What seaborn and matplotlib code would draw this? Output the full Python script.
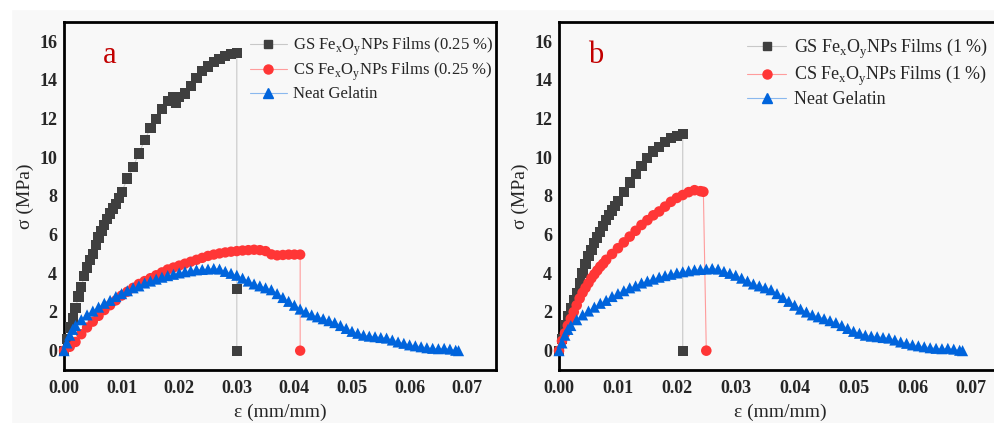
import matplotlib
matplotlib.use("Agg")
import matplotlib.pyplot as plt
from matplotlib.lines import Line2D
from matplotlib.patches import Rectangle
import seaborn as sns

# panel a, 0.25 % films
gs_a_x = [0, 0.0005, 0.001, 0.0015, 0.002, 0.0025, 0.003, 0.0035, 0.004, 0.0045,
          0.005, 0.0055, 0.006, 0.0065, 0.007, 0.0075, 0.008, 0.0085, 0.009, 0.0095,
          0.010, 0.011, 0.012, 0.013, 0.014, 0.015, 0.016, 0.017, 0.018, 0.019,
          0.0195, 0.020, 0.021, 0.022, 0.023, 0.024, 0.025, 0.026, 0.027, 0.028,
          0.029, 0.030, 0.030, 0.030]
gs_a_y = [0, 0.6, 1.2, 1.7, 2.2, 2.8, 3.3, 3.85, 4.3, 4.7,
          5.0, 5.45, 5.85, 6.2, 6.5, 6.8, 7.1, 7.35, 7.6, 7.9,
          8.2, 8.9, 9.5, 10.2, 10.9, 11.5, 12.0, 12.5, 12.9, 13.1,
          12.8, 13.1, 13.3, 13.7, 14.1, 14.45, 14.7, 14.95, 15.1, 15.25,
          15.35, 15.4, 3.2, 0]

cs_a_x = [0, 0.001, 0.002, 0.003, 0.004, 0.005, 0.006, 0.007, 0.008, 0.009,
          0.010, 0.011, 0.012, 0.013, 0.014, 0.015, 0.016, 0.017, 0.018, 0.019,
          0.020, 0.021, 0.022, 0.023, 0.024, 0.025, 0.026, 0.027, 0.028, 0.029,
          0.030, 0.031, 0.032, 0.033, 0.034, 0.035, 0.036, 0.037, 0.038, 0.039,
          0.040, 0.041, 0.041]
cs_a_y = [0, 0.2, 0.45, 0.85, 1.2, 1.5, 1.8, 2.1, 2.35, 2.6,
          2.85, 3.05, 3.25, 3.45, 3.6, 3.75, 3.9, 4.05, 4.2, 4.3,
          4.4, 4.5, 4.6, 4.7, 4.8, 4.9, 4.97, 5.03, 5.08, 5.12,
          5.15, 5.18, 5.2, 5.22, 5.2, 5.15, 4.98, 4.93, 4.95, 4.97,
          4.97, 4.97, 0]

# neat gelatin, same curve in both panels
neat_x = [0, 0.0005, 0.001, 0.0015, 0.002, 0.003, 0.004, 0.005, 0.006, 0.007,
          0.008, 0.009, 0.010, 0.011, 0.012, 0.013, 0.014, 0.015, 0.016, 0.017,
          0.018, 0.019, 0.020, 0.021, 0.022, 0.023, 0.024, 0.025, 0.026, 0.027,
          0.028, 0.029, 0.030, 0.031, 0.032, 0.033, 0.034, 0.035, 0.036, 0.037,
          0.038, 0.039, 0.040, 0.041, 0.042, 0.043, 0.044, 0.045, 0.046, 0.047,
          0.048, 0.049, 0.050, 0.051, 0.052, 0.053, 0.054, 0.055, 0.056, 0.057,
          0.058, 0.059, 0.060, 0.061, 0.062, 0.063, 0.064, 0.065, 0.066, 0.067,
          0.068, 0.0685]
neat_y = [0, 0.4, 0.8, 1.1, 1.3, 1.6, 1.85, 2.05, 2.25, 2.45,
          2.6, 2.8, 2.95, 3.1, 3.25, 3.35, 3.5, 3.6, 3.7, 3.8,
          3.88, 3.95, 4.02, 4.08, 4.13, 4.18, 4.2, 4.22, 4.25, 4.22,
          4.1, 4.0, 3.9, 3.75, 3.6, 3.45, 3.35, 3.25, 3.15, 2.95,
          2.75, 2.55, 2.35, 2.15, 2.0, 1.85, 1.75, 1.65, 1.55, 1.45,
          1.3, 1.15, 1.0, 0.9, 0.8, 0.75, 0.72, 0.68, 0.65, 0.55,
          0.45, 0.38, 0.3, 0.25, 0.2, 0.15, 0.12, 0.1, 0.12, 0.08,
          0.02, 0]

# panel b, 1 % films
gs_b_x = [0, 0.0005, 0.001, 0.0015, 0.002, 0.0025, 0.003, 0.0035, 0.004, 0.0045,
          0.005, 0.0055, 0.006, 0.0065, 0.007, 0.0075, 0.008, 0.0085, 0.009, 0.0095,
          0.010, 0.011, 0.012, 0.013, 0.014, 0.015, 0.016, 0.017, 0.018, 0.019,
          0.020, 0.021, 0.021]
gs_b_y = [0, 0.6, 1.3, 1.8, 2.2, 2.6, 3.0, 3.5, 4.0, 4.5,
          4.9, 5.2, 5.55, 5.85, 6.15, 6.45, 6.75, 7.0, 7.25, 7.5,
          7.75, 8.2, 8.7, 9.15, 9.55, 9.95, 10.3, 10.55, 10.8, 10.98,
          11.1, 11.2, 0]

cs_b_x = [0, 0.0005, 0.001, 0.0015, 0.002, 0.0025, 0.003, 0.0035, 0.004, 0.0045,
          0.005, 0.0055, 0.006, 0.0065, 0.007, 0.0075, 0.008, 0.009, 0.010, 0.011,
          0.012, 0.013, 0.014, 0.015, 0.016, 0.017, 0.018, 0.019, 0.020, 0.021,
          0.022, 0.023, 0.024, 0.0245, 0.025]
cs_b_y = [0, 0.5, 0.9, 1.3, 1.65, 2.0, 2.35, 2.7, 3.0, 3.25,
          3.5, 3.75, 3.95, 4.15, 4.35, 4.5, 4.7, 5.0, 5.3, 5.6,
          5.9, 6.2, 6.5, 6.75, 7.0, 7.2, 7.45, 7.7, 7.9, 8.05,
          8.2, 8.3, 8.25, 8.22, 0]

x_ticks = [0, 0.01, 0.02, 0.03, 0.04, 0.05, 0.06, 0.07]
y_ticks = [0, 2, 4, 6, 8, 10, 12, 14, 16]

GREY, GREY_LN = "#3f3f3f", "#c8c8c8"
RED, RED_LN = "#ff3636", "#ff9c9c"
BLUE, BLUE_LN = "#0064dc", "#8ab8ee"
BG = "#f8f8f8"

sns.set_style("white")
plt.rcParams["font.family"] = ["Liberation Serif", "DejaVu Serif"]
plt.rcParams["mathtext.fontset"] = "custom"
plt.rcParams["mathtext.rm"] = "Liberation Serif"

fig = plt.figure(figsize=(9.94, 4.23), dpi=100)
fig.patch.set_facecolor(BG)
fig.add_artist(Rectangle((0, 0.979), 1, 0.03, transform=fig.transFigure,
                         color="white", zorder=0))
fig.add_artist(Rectangle((0, 0), 0.011, 1, transform=fig.transFigure,
                         color="white", zorder=0))

ax_a = fig.add_axes([0.0644, 0.1253, 0.4346, 0.8227])
ax_b = fig.add_axes([0.5624, 0.1253, 0.4445, 0.8227])


def draw_series(ax, xs, ys, mk, size, dark, light):
    sns.lineplot(x=xs, y=ys, estimator=None, sort=False, color=light,
                 linewidth=0.8, ax=ax, zorder=2)
    sns.scatterplot(x=xs, y=ys, marker=mk, s=size, color=dark,
                    edgecolor="none", linewidth=0, ax=ax, zorder=3, clip_on=False)


def style_axes(ax, letter, letter_x, pct, fs_leg, leg_x, leg_sp):
    ax.set_facecolor(BG)
    ax.set_xlim(0, 0.075)
    ax.set_ylim(-1, 17)
    ax.set_xticks(x_ticks)
    ax.set_xticklabels([f"{t:.2f}" for t in x_ticks])
    ax.set_yticks(y_ticks)
    ax.set_yticklabels([str(t) for t in y_ticks])
    ax.tick_params(axis="both", length=0, labelsize=13)
    ax.tick_params(axis="x", pad=7)
    ax.tick_params(axis="y", pad=5)
    for lab in ax.get_xticklabels() + ax.get_yticklabels():
        lab.set_fontweight("bold")
    for sp in ax.spines.values():
        sp.set_color("black")
        sp.set_linewidth(2.0)
    ax.set_xlabel("ε (mm/mm)", fontsize=14, labelpad=5)
    ax.set_ylabel("σ (MPa)", fontsize=14, labelpad=4)
    ax.text(letter_x, 0.905, letter, transform=ax.transAxes, fontsize=22,
            color="#c20000", ha="center", va="center")
    handles = [
        Line2D([], [], color=GREY_LN, lw=0.8, marker="s", markersize=6,
               markerfacecolor=GREY, markeredgecolor=GREY),
        Line2D([], [], color=RED_LN, lw=0.8, marker="o", markersize=6.5,
               markerfacecolor=RED, markeredgecolor=RED),
        Line2D([], [], color=BLUE_LN, lw=0.8, marker="^", markersize=7,
               markerfacecolor=BLUE, markeredgecolor=BLUE),
    ]
    labels = [
        rf"GS Fe$_\mathregular{{x}}$O$_\mathregular{{y}}$NPs Films ({pct} %)",
        rf"CS Fe$_\mathregular{{x}}$O$_\mathregular{{y}}$NPs Films ({pct} %)",
        "Neat Gelatin",
    ]
    ax.legend(handles, labels, loc="upper left", bbox_to_anchor=(leg_x, 1.0),
              frameon=False, fontsize=fs_leg, handlelength=2.2,
              handletextpad=0.4, labelspacing=leg_sp, borderaxespad=0.4)


draw_series(ax_a, gs_a_x, gs_a_y, "s", 54, GREY, GREY_LN)
draw_series(ax_a, cs_a_x, cs_a_y, "o", 56, RED, RED_LN)
draw_series(ax_a, neat_x, neat_y, "^", 64, BLUE, BLUE_LN)
style_axes(ax_a, "a", 0.105, "0.25", 12, 0.40, 0.2)

draw_series(ax_b, gs_b_x, gs_b_y, "s", 54, GREY, GREY_LN)
draw_series(ax_b, cs_b_x, cs_b_y, "o", 58, RED, RED_LN)
draw_series(ax_b, neat_x, neat_y, "^", 64, BLUE, BLUE_LN)
style_axes(ax_b, "b", 0.084, "1", 13, 0.392, 0.18)

fig.savefig("out.png", dpi=100, facecolor=fig.get_facecolor())
plt.close(fig)
